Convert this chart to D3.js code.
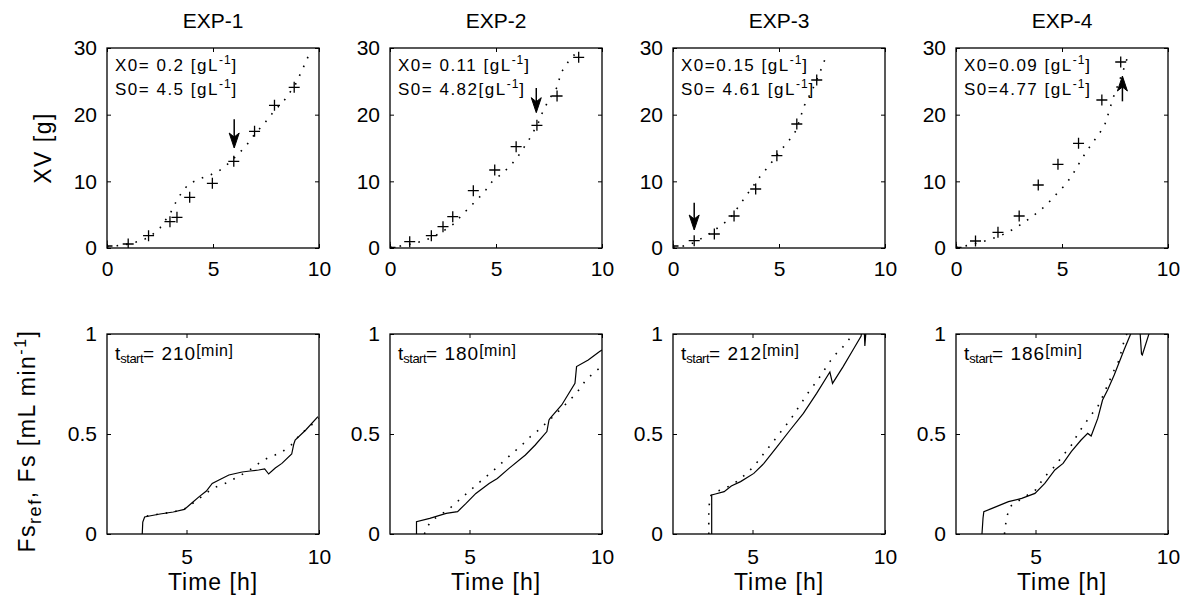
<!DOCTYPE html>
<html>
<head>
<meta charset="utf-8">
<script src="https://cdn.jsdelivr.net/npm/d3@7"></script>
<style>
  body { margin: 0; background: #fff; }
  svg text { font-family: "Liberation Sans", Arial, sans-serif; fill: #000; }
</style>
</head>
<body>
<svg id="chart" width="1185" height="605"></svg>
<script>
// ---- data ----
const experiments = ["EXP-1", "EXP-2", "EXP-3", "EXP-4"];
const x0Text = ["X0= 0.2 [gL", "X0= 0.11 [gL", "X0=0.15 [gL", "X0=0.09 [gL"];
const s0Text = ["S0= 4.5 [gL", "S0= 4.82[gL", "S0= 4.61 [gL", "S0=4.77 [gL"];
const tStart = [210, 180, 212, 186];

const topXTicks = [0, 5, 10];
const topYTicks = [0, 10, 20, 30];
const botXTicks = [5, 10];
const botYTicks = [0, 0.5, 1];

// XV measured (+) [time h, XV g]
const xvMeas1 = [[0, 0.3], [1, 0.6], [1.96, 1.85], [2.97, 3.95], [3.3, 4.6], [3.9, 7.6], [4.97, 9.7], [5.98, 13.0], [6.96, 17.5], [7.9, 21.4], [8.83, 24.1]];
const xvMeas2 = [[0, 0.1], [0.93, 0.95], [1.95, 1.85], [2.5, 3.2], [2.96, 4.7], [3.93, 8.6], [4.94, 11.7], [5.95, 15.2], [6.93, 18.4], [7.88, 22.8], [8.9, 28.6]];
const xvMeas3 = [[0, 0.3], [1.0, 1.1], [1.95, 2.1], [2.88, 4.8], [3.9, 8.85], [4.9, 13.85], [5.84, 18.6], [6.78, 25.2]];
const xvMeas4 = [[0, 0.1], [0.92, 1.05], [1.98, 2.35], [2.98, 4.8], [3.88, 9.45], [4.81, 12.55], [5.78, 15.7], [6.88, 22.2], [7.77, 27.9]];

// XV model (dotted)
const xvModel1 = [[0, 0.2], [0.5, 0.35], [1, 0.6], [1.5, 1.0], [2, 1.6], [2.5, 3.0], [3, 5.3], [3.3, 7.2], [3.6, 8.7], [3.9, 9.7], [4.4, 10.4], [4.9, 11.0], [5.3, 11.6], [5.7, 12.6], [6.2, 14.1], [6.6, 15.5], [7, 17.2], [7.4, 18.6], [7.8, 20.2], [8.4, 22.3], [8.9, 24.6], [9.25, 27], [9.5, 28.8]];
const xvModel2 = [[0, 0.1], [0.5, 0.3], [1, 0.6], [1.5, 1.0], [2, 1.6], [2.5, 2.5], [3, 3.6], [3.5, 5.3], [4, 6.9], [4.45, 8.4], [4.8, 9.9], [5.3, 11.2], [5.7, 12.4], [6.05, 13.8], [6.55, 16.2], [7, 18.8], [7.2, 20.4], [7.5, 22.3], [7.9, 24.2], [8.05, 26.2], [8.4, 27.9], [8.75, 29.2]];
const xvModel3 = [[0, 0.1], [0.5, 0.3], [1, 0.8], [1.6, 1.9], [2.1, 3.0], [2.65, 4.3], [3.2, 6.7], [3.6, 8.5], [4.1, 10.7], [4.6, 12.6], [5, 14.4], [5.4, 15.8], [5.8, 17.6], [6.2, 21.4], [6.6, 23.9], [7.0, 26.9], [7.25, 29]];
const xvModel4 = [[0, 0.1], [0.6, 0.4], [1.2, 0.9], [1.7, 1.4], [2.17, 1.95], [2.63, 2.7], [3.1, 3.6], [3.5, 4.5], [4, 5.7], [4.42, 7.0], [4.8, 8.3], [5.16, 9.5], [5.5, 11.0], [5.75, 12.4], [6.06, 14.0], [6.4, 15.6], [6.7, 16.9], [7.0, 18.3], [7.2, 20.3], [7.4, 22.4], [7.7, 25.0], [7.93, 27.0], [8.16, 29.4]];

// arrows on the XV panels
const arrowTime = [6.0, 6.9, 1.0, 7.85];
const arrowFrom = [19.3, 24.0, 6.8, 22.0];
const arrowTo = [15.0, 20.3, 2.7, 25.8];

// Fs measured (solid) [time h, mL/min]
const fsMeas1 = [[3.33, 0], [3.35, 0.06], [3.42, 0.085], [3.6, 0.09], [4.0, 0.1], [4.5, 0.11], [4.92, 0.123], [5.2, 0.155], [5.48, 0.187], [5.75, 0.215], [5.97, 0.253], [6.3, 0.275], [6.6, 0.295], [7.1, 0.31], [7.4, 0.315], [7.72, 0.32], [7.95, 0.325], [8.1, 0.3], [8.35, 0.33], [8.6, 0.353], [8.97, 0.4], [9.05, 0.45], [9.1, 0.47], [9.5, 0.52], [9.96, 0.587]];
const fsMeas2 = [[3.0, 0], [3.0, 0.062], [3.5, 0.078], [4.12, 0.103], [4.55, 0.112], [4.87, 0.153], [5.24, 0.203], [5.74, 0.253], [6.05, 0.278], [6.49, 0.328], [7.11, 0.395], [7.48, 0.445], [7.92, 0.512], [8.0, 0.57], [8.04, 0.578], [8.48, 0.645], [8.98, 0.753], [9.04, 0.837], [9.48, 0.87], [9.91, 0.912], [10, 0.92]];
const fsMeas3 = [[3.46, 0], [3.46, 0.195], [3.6, 0.2], [3.93, 0.212], [4.2, 0.24], [4.55, 0.262], [5.05, 0.303], [5.43, 0.353], [5.93, 0.437], [6.42, 0.52], [6.92, 0.603], [7.42, 0.703], [7.92, 0.81], [8.02, 0.753], [8.42, 0.837], [8.79, 0.92], [9.1, 0.99], [9.16, 1.08], [9.2, 1.08], [9.24, 0.94], [9.32, 1.08]];
const fsMeas4 = [[2.98, 0], [3.02, 0.08], [3.05, 0.112], [3.36, 0.128], [3.98, 0.162], [4.48, 0.178], [4.98, 0.203], [5.35, 0.253], [5.73, 0.32], [6.04, 0.353], [6.35, 0.412], [6.72, 0.47], [6.97, 0.503], [7.1, 0.49], [7.35, 0.578], [7.53, 0.67], [7.72, 0.72], [7.97, 0.795], [8.34, 0.92], [8.59, 1.0], [8.7, 1.1], [8.9, 1.1], [9.0, 0.9], [9.03, 0.895], [9.4, 1.05]];

// Fs reference (dotted)
const fsModel1 = [[3.5, 0.09], [4, 0.1], [4.5, 0.11], [5, 0.13], [5.5, 0.18], [6, 0.23], [6.5, 0.255], [7, 0.29], [7.5, 0.33], [7.9, 0.37], [8.2, 0.387], [8.6, 0.41], [9, 0.45], [9.3, 0.5], [9.65, 0.537], [10, 0.58]];
const fsModel2 = [[3.3, 0.0], [3.37, 0.03], [3.6, 0.07], [4.18, 0.12], [4.7, 0.18], [5.3, 0.25], [5.99, 0.328], [6.61, 0.403], [6.98, 0.445], [7.3, 0.487], [7.61, 0.52], [8.1, 0.58], [8.54, 0.637], [8.79, 0.67], [9.08, 0.712], [9.35, 0.762], [9.6, 0.795], [10, 0.84]];
const fsModel3 = [[3.35, 0.0], [3.35, 0.12], [3.4, 0.19], [3.6, 0.21], [4.0, 0.23], [4.5, 0.27], [5.05, 0.337], [5.43, 0.403], [5.93, 0.487], [6.17, 0.528], [6.42, 0.57], [6.67, 0.62], [6.92, 0.67], [7.17, 0.72], [7.42, 0.762], [7.67, 0.812], [7.92, 0.862], [8.17, 0.903], [8.42, 0.937], [8.67, 0.978], [8.85, 1.0]];
const fsModel4 = [[3.83, 0.0], [3.86, 0.037], [3.92, 0.087], [4.04, 0.137], [4.4, 0.17], [5.0, 0.22], [5.35, 0.287], [5.66, 0.328], [6.1, 0.403], [6.41, 0.453], [6.6, 0.503], [7.1, 0.595], [7.35, 0.637], [7.53, 0.687], [7.97, 0.82], [8.16, 0.87], [8.28, 0.937], [8.4, 0.987], [8.45, 1.0]];

const xvMeas = [xvMeas1, xvMeas2, xvMeas3, xvMeas4];
const xvModel = [xvModel1, xvModel2, xvModel3, xvModel4];
const fsMeas = [fsMeas1, fsMeas2, fsMeas3, fsMeas4];
const fsModel = [fsModel1, fsModel2, fsModel3, fsModel4];

// ---- layout ----
const svg = d3.select("#chart");
const left0 = 107, step = 283, pw = 212, ph = 200;
const topY = 48, botY = 334;
const FONT = 21;

function axes(g, x, y, xt, yt, padX) {
  g.append("g")
    .attr("transform", `translate(0,${ph})`)
    .call(d3.axisBottom(x).tickValues(xt).tickSize(-4).tickSizeOuter(0).tickPadding(padX).tickFormat(d => String(d)))
    .call(a => a.select(".domain").remove())
    .attr("font-size", FONT);
  g.append("g")
    .call(d3.axisLeft(y).tickValues(yt).tickSize(-4).tickSizeOuter(0).tickPadding(10).tickFormat(d => String(d)))
    .call(a => a.select(".domain").remove())
    .attr("font-size", FONT);
  g.append("g")
    .call(d3.axisTop(x).tickValues(xt).tickSize(-4).tickSizeOuter(0).tickFormat(""))
    .call(a => a.select(".domain").remove());
  g.append("g")
    .attr("transform", `translate(${pw},0)`)
    .call(d3.axisRight(y).tickValues(yt).tickSize(-4).tickSizeOuter(0).tickFormat(""))
    .call(a => a.select(".domain").remove());
  g.append("rect")
    .attr("width", pw).attr("height", ph)
    .attr("fill", "none").attr("stroke", "#000").attr("stroke-width", 1.3);
}

experiments.forEach((name, i) => {
  const left = left0 + i * step;

  // ---------- top row: XV ----------
  const gt = svg.append("g").attr("transform", `translate(${left},${topY})`);
  const xt = d3.scaleLinear().domain([0, 10]).range([0, pw]);
  const yt = d3.scaleLinear().domain([0, 30]).range([ph, 0]);

  gt.append("clipPath").attr("id", "ct" + i)
    .append("rect").attr("width", pw).attr("height", ph);

  const plotT = gt.append("g").attr("clip-path", `url(#ct${i})`);

  plotT.append("path")
    .datum(xvModel[i])
    .attr("fill", "none").attr("stroke", "#000")
    .attr("stroke-width", 1.6).attr("stroke-dasharray", "1.6,8")
    .attr("d", d3.line().x(d => xt(d[0])).y(d => yt(d[1])));

  plotT.selectAll(".cross")
    .data(xvMeas[i])
    .enter().append("path")
    .attr("fill", "none").attr("stroke", "#000").attr("stroke-width", 1.3)
    .attr("d", d => {
      const cx = xt(d[0]), cy = yt(d[1]), r = 5.5;
      return `M${cx - r},${cy}H${cx + r}M${cx},${cy - r}V${cy + r}`;
    });

  // arrow
  const ax = xt(arrowTime[i]), y1 = yt(arrowFrom[i]), y2 = yt(arrowTo[i]);
  const dir = y2 > y1 ? 1 : -1;
  gt.append("line")
    .attr("x1", ax).attr("x2", ax).attr("y1", y1).attr("y2", y2 - dir * 4)
    .attr("stroke", "#000").attr("stroke-width", 1.5);
  gt.append("path")
    .attr("fill", "#000").attr("stroke", "#000").attr("stroke-width", 1)
    .attr("d", `M${ax},${y2}L${ax - 5},${y2 - dir * 15}L${ax},${y2 - dir * 11}L${ax + 5},${y2 - dir * 15}Z`);

  axes(gt, xt, yt, topXTicks, topYTicks, 13);

  // inner annotation
  [x0Text[i], s0Text[i]].forEach((s, k) => {
    const t = gt.append("text").attr("x", 8).attr("y", 23 + k * 24)
      .attr("font-size", 17).style("letter-spacing", "1.5px");
    t.append("tspan").text(s);
    t.append("tspan").attr("font-size", 12).attr("dy", -7).style("letter-spacing", "1px").text("-1");
    t.append("tspan").attr("dy", 7).text("]");
  });

  gt.append("text")
    .attr("x", pw / 2).attr("y", 28 - topY)
    .attr("text-anchor", "middle").attr("font-size", FONT)
    .text(name);

  // ---------- bottom row: Fs ----------
  const gb = svg.append("g").attr("transform", `translate(${left},${botY})`);
  const xb = d3.scaleLinear().domain([2, 10]).range([0, pw]);
  const yb = d3.scaleLinear().domain([0, 1]).range([ph, 0]);

  gb.append("clipPath").attr("id", "cb" + i)
    .append("rect").attr("width", pw).attr("height", ph);

  const plotB = gb.append("g").attr("clip-path", `url(#cb${i})`);
  const lineB = d3.line().x(d => xb(d[0])).y(d => yb(d[1]));

  plotB.append("path")
    .datum(fsModel[i])
    .attr("fill", "none").attr("stroke", "#000")
    .attr("stroke-width", 1.6).attr("stroke-dasharray", "1.6,8")
    .attr("d", lineB);

  plotB.append("path")
    .datum(fsMeas[i])
    .attr("fill", "none").attr("stroke", "#000").attr("stroke-width", 1.2)
    .attr("d", lineB);

  axes(gb, xb, yb, botXTicks, botYTicks, 15);

  const ts = gb.append("text").attr("x", 8).attr("y", 26).attr("font-size", 19);
  ts.append("tspan").text("t");
  ts.append("tspan").attr("font-size", 13).attr("dy", 3).style("letter-spacing", "-0.5px").text("start");
  ts.append("tspan").attr("dy", -3).style("letter-spacing", "1px").text("= " + tStart[i]);
  ts.append("tspan").attr("font-size", 16).attr("dy", -4).style("letter-spacing", "0.5px").text("[min]");

  gb.append("text")
    .attr("x", pw / 2).attr("y", 590 - botY)
    .attr("text-anchor", "middle").attr("font-size", 23)
    .style("letter-spacing", "1px")
    .text("Time [h]");
});

// y labels on the first column
svg.append("text")
  .attr("transform", `translate(43,${topY + ph / 2}) rotate(-90)`)
  .attr("dy", "0.35em")
  .attr("text-anchor", "middle").attr("font-size", 23)
  .style("letter-spacing", "1.5px")
  .text("XV [g]");

const yl = svg.append("text")
  .attr("transform", `translate(27,441) rotate(-90)`)
  .attr("dy", "0.35em")
  .attr("text-anchor", "middle").attr("font-size", 23)
  .style("letter-spacing", "1.5px");
yl.append("tspan").text("Fs");
yl.append("tspan").attr("font-size", 18).attr("dy", 6).text("ref");
yl.append("tspan").attr("dy", -6).text(", Fs [mL min");
yl.append("tspan").attr("font-size", 16).attr("dy", -9).text("-1");
yl.append("tspan").attr("dy", 9).text("]");
</script>
</body>
</html>
